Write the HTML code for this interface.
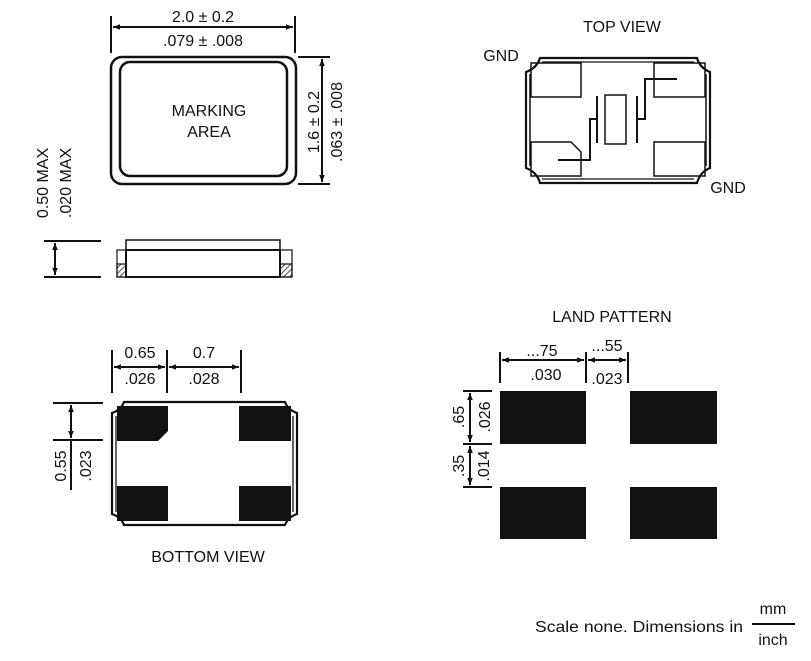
<!DOCTYPE html>
<html><head><meta charset="utf-8"><style>html,body{margin:0;padding:0;background:#fff}svg{display:block}text{font-family:"Liberation Sans",Arial,sans-serif;fill:#111}</style></head><body>
<svg width="811" height="661" viewBox="0 0 811 661" xmlns="http://www.w3.org/2000/svg">
<defs>
<marker id="a" viewBox="0 0 10 10" refX="10" refY="5" markerWidth="9" markerHeight="7" orient="auto-start-reverse" markerUnits="userSpaceOnUse"><path d="M0,1 L10,5 L0,9 Z" fill="#111"/></marker>
<pattern id="h" width="4" height="4" patternUnits="userSpaceOnUse" patternTransform="rotate(45)"><line x1="0" y1="0" x2="0" y2="4" stroke="#111" stroke-width="1.5"/></pattern>
</defs>
<g stroke="#111" fill="none" stroke-width="2">
<line x1="111" y1="16" x2="111" y2="53"/><line x1="295" y1="16" x2="295" y2="53"/>
<line x1="113" y1="27" x2="293" y2="27" marker-start="url(#a)" marker-end="url(#a)"/>
<rect x="111" y="57" width="185" height="127" rx="11" stroke-width="2.5"/>
<rect x="120" y="62" width="167" height="114" rx="10" stroke-width="2.5"/>
<line x1="298" y1="57" x2="330" y2="57"/><line x1="298" y1="184" x2="330" y2="184"/>
<line x1="322" y1="59" x2="322" y2="182" marker-start="url(#a)" marker-end="url(#a)"/>
<line x1="44" y1="241" x2="101" y2="241"/><line x1="44" y1="277" x2="101" y2="277"/>
<line x1="55" y1="243" x2="55" y2="275" marker-start="url(#a)" marker-end="url(#a)"/>
<rect x="126" y="240" width="154" height="10" stroke-width="1.5"/>
<rect x="126" y="250" width="154" height="27" stroke-width="2"/>
<rect x="117" y="250" width="9" height="27" stroke-width="1.2"/>
<rect x="280" y="250" width="12" height="27" stroke-width="1.2"/>
<rect x="117" y="264" width="9" height="13" fill="url(#h)" stroke-width="1.2"/>
<rect x="280" y="264" width="12" height="13" fill="url(#h)" stroke-width="1.2"/>
<path d="M540,58 L697,58 Q700,68 710,72 L710,168 Q700,172 697,183 L540,183 Q537,172 526,168 L526,72 Q537,68 540,58 Z" stroke-width="2.2"/>
<line x1="530" y1="74" x2="530" y2="166" stroke-width="1.5"/><line x1="706" y1="74" x2="706" y2="166" stroke-width="1.5"/>
<line x1="542" y1="62" x2="694" y2="62" stroke-width="1.3"/><line x1="542" y1="179" x2="694" y2="179" stroke-width="1.3"/>
<g stroke-width="1.5">
<rect x="531" y="63" width="50" height="34"/><rect x="654" y="63" width="51" height="34"/>
<path d="M531,142 L571,142 L581,152 L581,176 L531,176 Z"/><rect x="654" y="142" width="51" height="34"/>
<rect x="605" y="95" width="21" height="49"/>
</g>
<line x1="597" y1="96" x2="597" y2="143"/><line x1="637" y1="96" x2="637" y2="143"/>
<path d="M597,119 L590,119 L590,160 L558,160"/>
<path d="M637,119 L645,119 L645,79 L677,79"/>
<path d="M124,402 L285,402 Q288,410 297,413 L297,514 Q288,517 285,525 L124,525 Q121,517 112,514 L112,413 Q121,410 124,402 Z" stroke-width="2.2"/>
<line x1="116" y1="416" x2="116" y2="512" stroke-width="1.3"/><line x1="293" y1="416" x2="293" y2="512" stroke-width="1.3"/>
<line x1="112" y1="350" x2="112" y2="393"/><line x1="167" y1="350" x2="167" y2="393"/><line x1="241" y1="350" x2="241" y2="393"/>
<line x1="114" y1="367" x2="165" y2="367" marker-start="url(#a)" marker-end="url(#a)"/>
<line x1="169" y1="367" x2="239" y2="367" marker-start="url(#a)" marker-end="url(#a)"/>
<line x1="53" y1="403" x2="103" y2="403"/><line x1="53" y1="440" x2="103" y2="440"/>
<line x1="71" y1="405" x2="71" y2="438" marker-start="url(#a)" marker-end="url(#a)"/>
<line x1="71" y1="440" x2="71" y2="490"/>
<line x1="500" y1="352" x2="500" y2="383"/><line x1="586" y1="352" x2="586" y2="383"/><line x1="628" y1="352" x2="628" y2="383"/>
<line x1="502" y1="360" x2="584" y2="360" marker-start="url(#a)" marker-end="url(#a)"/>
<line x1="588" y1="360" x2="626" y2="360" marker-start="url(#a)" marker-end="url(#a)"/>
<line x1="463" y1="391" x2="492" y2="391"/><line x1="463" y1="444" x2="492" y2="444"/><line x1="463" y1="487" x2="492" y2="487"/>
<line x1="470" y1="393" x2="470" y2="442" marker-start="url(#a)" marker-end="url(#a)"/>
<line x1="470" y1="446" x2="470" y2="485" marker-start="url(#a)" marker-end="url(#a)"/>
<line x1="752" y1="624" x2="795" y2="624" stroke-width="2"/>
</g>
<g fill="#111">
<path d="M117,406 L168,406 L168,431 L158,441 L117,441 Z"/>
<rect x="239" y="406" width="52" height="35"/><rect x="117" y="486" width="51" height="35"/><rect x="239" y="486" width="52" height="35"/>
<rect x="500" y="391" width="86" height="53"/><rect x="630" y="391" width="87" height="53"/>
<rect x="500" y="487" width="86" height="52"/><rect x="630" y="487" width="87" height="52"/>
</g>
<g font-size="16" text-anchor="middle">
<text x="203" y="22">2.0 ± 0.2</text>
<text x="203" y="46">.079 ± .008</text>
<text x="209" y="116">MARKING</text>
<text x="209" y="137">AREA</text>
<text transform="translate(319,122) rotate(-90)">1.6 ± 0.2</text>
<text transform="translate(342,122) rotate(-90)">.063 ± .008</text>
<text transform="translate(48,183) rotate(-90)">0.50 MAX</text>
<text transform="translate(71,183) rotate(-90)">.020 MAX</text>
<text x="622" y="32">TOP VIEW</text>
<text x="501" y="61">GND</text>
<text x="728" y="193">GND</text>
<text x="140" y="358">0.65</text>
<text x="140" y="384">.026</text>
<text x="204" y="358">0.7</text>
<text x="204" y="384">.028</text>
<text transform="translate(66,466) rotate(-90)">0.55</text>
<text transform="translate(91,466) rotate(-90)">.023</text>
<text x="208" y="562">BOTTOM VIEW</text>
<text x="612" y="322">LAND PATTERN</text>
<text x="542" y="356">...75</text>
<text x="546" y="380">.030</text>
<text x="607" y="351">...55</text>
<text x="607" y="384">.023</text>
<text transform="translate(464,417) rotate(-90)">.65</text>
<text transform="translate(490,417) rotate(-90)">.026</text>
<text transform="translate(464,466) rotate(-90)">.35</text>
<text transform="translate(489,466) rotate(-90)">.014</text>
</g>
<g font-size="16">
<text x="535" y="632" textLength="208" lengthAdjust="spacingAndGlyphs">Scale none. Dimensions in</text>
<text x="773" y="614" text-anchor="middle">mm</text>
<text x="773" y="645" text-anchor="middle">inch</text>
</g>
</svg>
</body></html>
